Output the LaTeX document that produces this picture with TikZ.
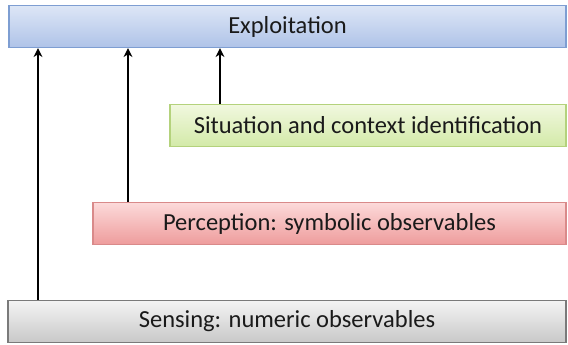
\documentclass[tikz,border=0pt]{standalone}
\usepackage{fontspec}
\setmainfont{Carlito}
\usetikzlibrary{arrows.meta}
\definecolor{bluetop}{HTML}{DDE6F6}
\definecolor{bluebot}{HTML}{AFC3E8}
\definecolor{blueedge}{HTML}{7E9ED2}
\definecolor{greentop}{HTML}{F1F8DF}
\definecolor{greenbot}{HTML}{D3EAA8}
\definecolor{greenedge}{HTML}{B4D27C}
\definecolor{redtop}{HTML}{FCDADA}
\definecolor{redbot}{HTML}{EE9C9C}
\definecolor{rededge}{HTML}{D98A8A}
\definecolor{graytop}{HTML}{F4F4F4}
\definecolor{graybot}{HTML}{C8C8C8}
\definecolor{grayedge}{HTML}{7A7A7A}
\definecolor{txt}{HTML}{1A1A1A}
\tikzset{
  layer/.style={draw, line width=1.2pt, rectangle, inner sep=0pt, font=\fontsize{24.5}{28}\selectfont, text=txt},
  upar/.style={line width=2.2pt, -{Stealth[length=9pt,width=9pt]}},
}
\begin{document}
\begin{tikzpicture}[x=1pt,y=-1pt]
\useasboundingbox (0,0) rectangle (568,345);
\node[layer, draw=blueedge, top color=bluetop, bottom color=bluebot, minimum width=557pt, minimum height=42pt] (exp) at (287.5,26.5) {Exploitation};
\node[layer, draw=greenedge, top color=greentop, bottom color=greenbot, minimum width=396pt, minimum height=42pt] (sit) at (368,125.5) {Situation and context identification};
\node[layer, draw=rededge, top color=redtop, bottom color=redbot, minimum width=473pt, minimum height=42pt] (per) at (329.5,223.5) {Perception: symbolic observables};
\node[layer, draw=grayedge, top color=graytop, bottom color=graybot, minimum width=558pt, minimum height=42pt] (sen) at (287,321.5) {Sensing: numeric observables};
\draw[upar] (sen.north west -| 38,0) -- (exp.south west -| 38,0);
\draw[upar] (per.north west -| 128,0) -- (exp.south west -| 128,0);
\draw[upar] (sit.north west -| 220,0) -- (exp.south west -| 220,0);
\end{tikzpicture}
\end{document}
